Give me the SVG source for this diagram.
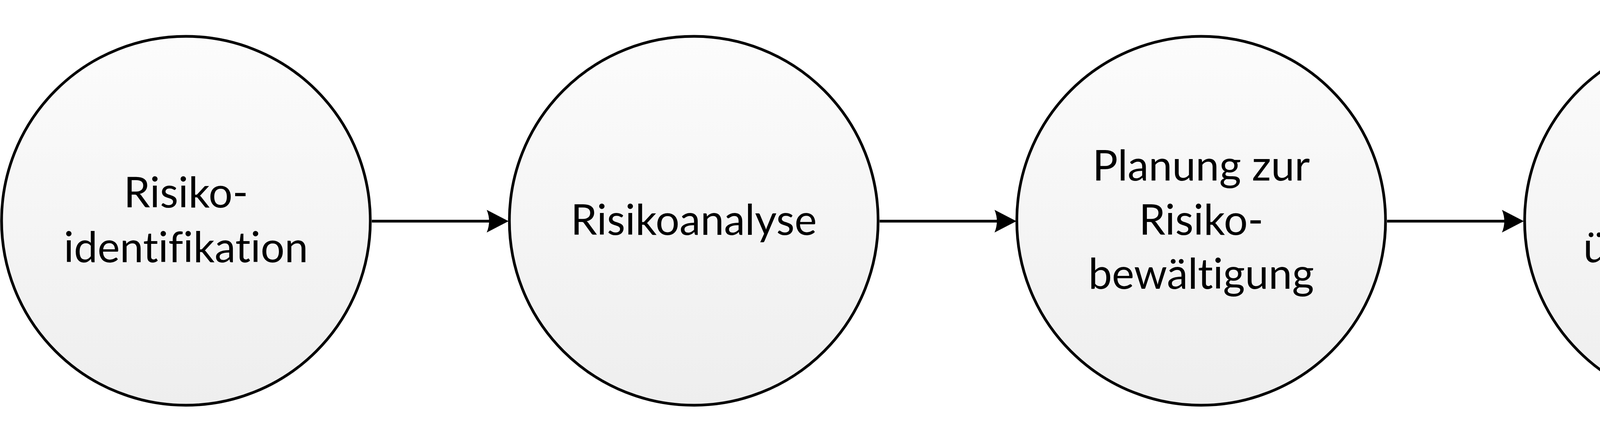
<svg xmlns="http://www.w3.org/2000/svg" width="5570" height="1126" viewBox="0 0 5570 1126">
<style>
.node circle{fill:url(#g);stroke:#000;stroke-width:7}
.node text{font-family:Lato,"Open Sans",sans-serif;font-size:108px;fill:#000;text-anchor:middle;font-variant-ligatures:none}
.conn path{fill:none;stroke:#000;stroke-width:7;marker-end:url(#arr)}
</style>
<defs>
<linearGradient id="g" x1="0" y1="0" x2="0" y2="1">
<stop offset="0" stop-color="#fcfcfc"/>
<stop offset="1" stop-color="#eeeeee"/>
</linearGradient>
<marker id="arr" markerUnits="userSpaceOnUse" orient="auto" markerWidth="80" markerHeight="80" viewBox="-10 -40 70 80" refX="0" refY="0">
<path d="M50,0 L-6,-29 Q6,0 -6,29 Z" fill="#000"/>
</marker>
</defs>
<rect width="5570" height="1126" fill="#fff"/>
<g class="conn" id="connectors">
<path d="M952,566 H1252"/>
<path d="M2252,566 H2552"/>
<path d="M3551,566 H3851"/>
<path d="M4622,160 A557,557 0 1 1 4658.4,1002.3"/>
</g>
<g class="node" id="n1">
<circle cx="476" cy="565" r="472"/>
<text x="476" y="531">Risiko-</text>
<text x="476" y="671">identifikation</text>
</g>
<g class="node" id="n2">
<circle cx="1776" cy="565" r="472"/>
<text x="1776" y="601">Risikoanalyse</text>
</g>
<g class="node" id="n3">
<circle cx="3075" cy="565" r="472"/>
<text x="3075" y="462">Planung zur</text>
<text x="3075" y="601">Risiko-</text>
<text x="3075" y="739">bewältigung</text>
</g>
<g class="node" id="n4">
<circle cx="4375" cy="565" r="472"/>
<text x="4375" y="531">Risiko-</text>
<text x="4375" y="671">überwachung</text>
</g>
</svg>
